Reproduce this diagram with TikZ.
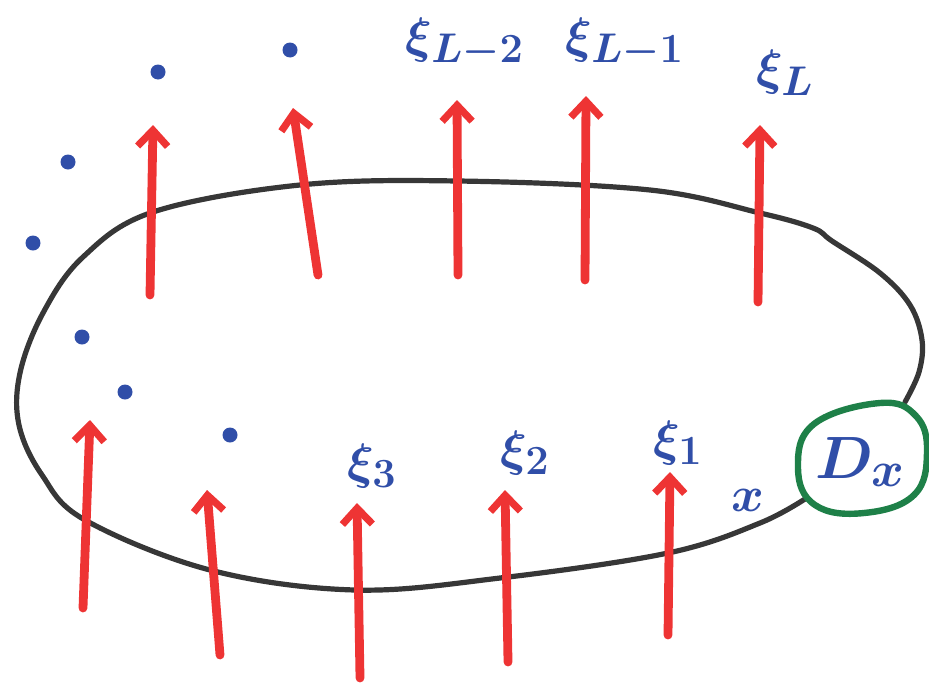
\documentclass[tikz,border=0pt]{standalone}
\usepackage{xcolor}
\usepackage{tikz}
\usetikzlibrary{arrows.meta}

\definecolor{penred}{RGB}{238,52,52}
\definecolor{penblue}{RGB}{48,78,168}
\definecolor{pengreen}{RGB}{30,128,72}
\definecolor{penblack}{RGB}{55,55,55}

\begin{document}
\begin{tikzpicture}[
  x=0.5pt, y=-0.5pt,
  every node/.style={font=\fontsize{28}{32}\selectfont\boldmath, text=penblue},
  fieldarrow/.style={-{Straight Barb[length=8pt, width=15pt, line width=3.6pt]}, penred, line width=4.4pt, line cap=round},
  contour/.style={penblack, line width=2.6pt, line cap=round},
  dotmark/.style={fill=penblue, draw=none},
  diskbox/.style={pengreen, line width=3.2pt}
]
\useasboundingbox (0,0) rectangle (929,685);

% closed contour (it runs under the disk)
\draw[contour] plot[smooth, tension=0.6] coordinates {
  (905,402) (919,372) (922,340) (910,305) (880,273) (832,241) (813,228)
  (760,213) (650,190) (458,181) (300,185) (153,212) (83,257) (43,313)
  (20,373) (19,425) (42,475) (85,520) (210,570) (355,590) (500,578)
  (668,553) (760,523) (808,497)};

% disk around the end point
\draw[diskbox, fill=white] plot[smooth cycle, tension=0.7] coordinates {
  (880,403) (916,416) (927,452) (914,495) (864,513) (815,505) (798,468) (814,424)};
\node[scale=1.2] (disk) at (860,462) {$D_x$};

% arrows above
\draw[fieldarrow] (150,295) -- (153,125);
\draw[fieldarrow] (318,275) -- (293,108);
\draw[fieldarrow] (458,275) -- (457,100);
\draw[fieldarrow] (585,280) -- (586,96);
\draw[fieldarrow] (758,302) -- (760,125);

% arrows below
\draw[fieldarrow] (83,608) -- (90,420);
\draw[fieldarrow] (220,655) -- (207,490);
\draw[fieldarrow] (360,678) -- (357,503);
\draw[fieldarrow] (508,662) -- (505,490);
\draw[fieldarrow] (668,635) -- (670,472);

% labels
\node (xiLtwo) at (465,43) {$\xi_{L-2}$};
\node (xiLone) at (625,43) {$\xi_{L-1}$};
\node (xiL) at (785,73) {$\xi_L$};
\node (xithree) at (372,466) {$\xi_3$};
\node (xitwo) at (525,453) {$\xi_2$};
\node (xione) at (678,443) {$\xi_1$};
\node (pointx) at (748,500) {$x$};

% dots
\foreach \px/\py in {158/72, 290/50, 68/162, 33/243, 82/337, 125/392, 230/435}
  \fill[dotmark] (\px,\py) circle (7.5);

\end{tikzpicture}
\end{document}
